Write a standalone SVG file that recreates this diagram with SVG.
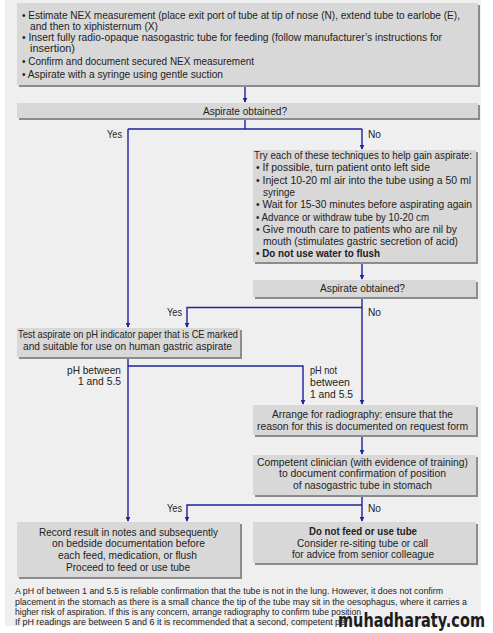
<svg xmlns="http://www.w3.org/2000/svg" width="493" height="633" viewBox="0 0 493 633">
<style>
text{font-family:"Liberation Sans",Arial,sans-serif;fill:#222;font-size:10.5px}
.b1{font-size:11px}
.bold{font-weight:bold}
.fn{font-size:9.5px}
.box{fill:#d8d8d8}
.sh{fill:#8c8c8c}
.c{fill:none;stroke:#2020a0;stroke-width:1.4}
.wm{font-family:"DejaVu Sans",sans-serif;font-weight:bold;font-size:20px;fill:#1c1c1c}
</style>
<defs>
<marker id="ah" viewBox="0 0 8 8" refX="7" refY="4" markerWidth="5" markerHeight="5" orient="auto" markerUnits="userSpaceOnUse">
<path d="M0,0 L8,4 L0,8 z" fill="#2020a0"/>
</marker>
</defs>
<rect x="0" y="0" width="493" height="633" fill="#fff"/>
<rect x="5" y="0" width="476" height="626" fill="#efefef"/>

<g id="connectors">
<path class="c" d="M245,85 V102" marker-end="url(#ah)"/>
<path class="c" d="M245,118 V129 M128,129 H362"/>
<path class="c" d="M128,129 V327" marker-end="url(#ah)"/>
<path class="c" d="M362,129 V149" marker-end="url(#ah)"/>
<path class="c" d="M362,263 V279" marker-end="url(#ah)"/>
<path class="c" d="M362,298 V404" marker-end="url(#ah)"/>
<path class="c" d="M362,307.5 H187 V327" marker-end="url(#ah)"/>
<path class="c" d="M128,357 V521" marker-end="url(#ah)"/>
<path class="c" d="M128,366 H303 V404" marker-end="url(#ah)"/>
<path class="c" d="M362,436 V454" marker-end="url(#ah)"/>
<path class="c" d="M362,496 V521" marker-end="url(#ah)"/>
<path class="c" d="M362,505 H187 V521" marker-end="url(#ah)"/>
</g>

<g id="n1">
<rect class="sh" x="19" y="5" width="461" height="82"/>
<rect class="box" x="17" y="3" width="461" height="82"/>
<text class="b1" x="22" y="19" textLength="438" lengthAdjust="spacingAndGlyphs">• Estimate NEX measurement (place exit port of tube at tip of nose (N), extend tube to earlobe (E),</text>
<text class="b1" x="30" y="29.5" textLength="128" lengthAdjust="spacingAndGlyphs">and then to xiphisternum (X)</text>
<text class="b1" x="22" y="41" textLength="420" lengthAdjust="spacingAndGlyphs">• Insert fully radio-opaque nasogastric tube for feeding (follow manufacturer’s instructions for</text>
<text class="b1" x="30" y="52" textLength="45" lengthAdjust="spacingAndGlyphs">insertion)</text>
<text class="b1" x="22" y="65" textLength="232" lengthAdjust="spacingAndGlyphs">• Confirm and document secured NEX measurement</text>
<text class="b1" x="22" y="78" textLength="201" lengthAdjust="spacingAndGlyphs">• Aspirate with a syringe using gentle suction</text>
</g>

<g id="n2">
<rect class="sh" x="19" y="105" width="461" height="15"/>
<rect class="box" x="17" y="103" width="461" height="15"/>
<text x="203" y="114.5" textLength="84" lengthAdjust="spacingAndGlyphs">Aspirate obtained?</text>
</g>
<text x="107" y="137.5" textLength="15" lengthAdjust="spacingAndGlyphs">Yes</text>
<text x="368" y="137.5" textLength="13" lengthAdjust="spacingAndGlyphs">No</text>

<g id="n3">
<rect class="sh" x="255" y="152" width="223" height="112"/>
<rect class="box" x="253" y="150" width="223" height="112"/>
<text x="254" y="159" textLength="218" lengthAdjust="spacingAndGlyphs">Try each of these techniques to help gain aspirate:</text>
<text x="256" y="171" textLength="174" lengthAdjust="spacingAndGlyphs">• If possible, turn patient onto left side</text>
<text x="256" y="183.5" textLength="215" lengthAdjust="spacingAndGlyphs">• Inject 10-20 ml air into the tube using a 50 ml</text>
<text x="263" y="196" textLength="32" lengthAdjust="spacingAndGlyphs">syringe</text>
<text x="256" y="208" textLength="216" lengthAdjust="spacingAndGlyphs">• Wait for 15-30 minutes before aspirating again</text>
<text x="256" y="220.5" textLength="173" lengthAdjust="spacingAndGlyphs">• Advance or withdraw tube by 10-20 cm</text>
<text x="256" y="233" textLength="201" lengthAdjust="spacingAndGlyphs">• Give mouth care to patients who are nil by</text>
<text x="263" y="245" textLength="195" lengthAdjust="spacingAndGlyphs">mouth (stimulates gastric secretion of acid)</text>
<text class="bold" x="256" y="257" textLength="124" lengthAdjust="spacingAndGlyphs">• Do not use water to flush</text>
</g>

<g id="n4">
<rect class="sh" x="255" y="282" width="223" height="17"/>
<rect class="box" x="253" y="280" width="223" height="17"/>
<text x="320" y="292" textLength="85" lengthAdjust="spacingAndGlyphs">Aspirate obtained?</text>
</g>
<text x="167" y="315.5" textLength="15" lengthAdjust="spacingAndGlyphs">Yes</text>
<text x="368" y="315.5" textLength="13" lengthAdjust="spacingAndGlyphs">No</text>

<g id="n5">
<rect class="sh" x="19" y="330" width="223" height="29"/>
<rect class="box" x="17" y="328" width="223" height="29"/>
<text x="18" y="337.5" textLength="220" lengthAdjust="spacingAndGlyphs">Test aspirate on pH indicator paper that is CE marked</text>
<text x="23" y="350" textLength="209" lengthAdjust="spacingAndGlyphs">and suitable for use on human gastric aspirate</text>
</g>
<text x="67" y="373.5" textLength="54" lengthAdjust="spacingAndGlyphs">pH between</text>
<text x="78" y="385" textLength="43" lengthAdjust="spacingAndGlyphs">1 and 5.5</text>
<text x="310" y="373.5" textLength="27" lengthAdjust="spacingAndGlyphs">pH not</text>
<text x="310" y="386" textLength="40" lengthAdjust="spacingAndGlyphs">between</text>
<text x="310" y="398" textLength="43" lengthAdjust="spacingAndGlyphs">1 and 5.5</text>

<g id="n6">
<rect class="sh" x="255" y="407" width="223" height="30"/>
<rect class="box" x="253" y="405" width="223" height="30"/>
<text x="272" y="417.5" textLength="181" lengthAdjust="spacingAndGlyphs">Arrange for radiography: ensure that the</text>
<text x="257" y="430" textLength="211" lengthAdjust="spacingAndGlyphs">reason for this is documented on request form</text>
</g>

<g id="n7">
<rect class="sh" x="255" y="457" width="223" height="40"/>
<rect class="box" x="253" y="455" width="223" height="40"/>
<text x="257" y="465.5" textLength="211" lengthAdjust="spacingAndGlyphs">Competent clinician (with evidence of training)</text>
<text x="279" y="477" textLength="167" lengthAdjust="spacingAndGlyphs">to document confirmation of position</text>
<text x="293" y="488.5" textLength="139" lengthAdjust="spacingAndGlyphs">of nasogastric tube in stomach</text>
</g>
<text x="167" y="511.5" textLength="15" lengthAdjust="spacingAndGlyphs">Yes</text>
<text x="368" y="511.5" textLength="13" lengthAdjust="spacingAndGlyphs">No</text>

<g id="n8">
<rect class="sh" x="19" y="524" width="223" height="55"/>
<rect class="box" x="17" y="522" width="223" height="55"/>
<text x="39" y="535.5" textLength="179" lengthAdjust="spacingAndGlyphs">Record result in notes and subsequently</text>
<text x="52" y="547" textLength="153" lengthAdjust="spacingAndGlyphs">on bedside documentation before</text>
<text x="58" y="559" textLength="139" lengthAdjust="spacingAndGlyphs">each feed, medication, or flush</text>
<text x="66" y="571" textLength="124" lengthAdjust="spacingAndGlyphs">Proceed to feed or use tube</text>
</g>

<g id="n9">
<rect class="sh" x="255" y="524" width="223" height="41"/>
<rect class="box" x="253" y="522" width="223" height="41"/>
<text class="bold" x="309" y="534.5" textLength="108" lengthAdjust="spacingAndGlyphs">Do not feed or use tube</text>
<text x="297" y="546.5" textLength="131" lengthAdjust="spacingAndGlyphs">Consider re-siting tube or call</text>
<text x="292" y="558" textLength="142" lengthAdjust="spacingAndGlyphs">for advice from senior colleague</text>
</g>

<g id="footnote">
<text class="fn" x="15" y="594" textLength="428" lengthAdjust="spacingAndGlyphs">A pH of between 1 and 5.5 is reliable confirmation that the tube is not in the lung. However, it does not confirm</text>
<text class="fn" x="15" y="604.5" textLength="452" lengthAdjust="spacingAndGlyphs">placement  in the stomach as there is a small chance the tip of the tube may sit in the oesophagus, where it carries a</text>
<text class="fn" x="15" y="615" textLength="346" lengthAdjust="spacingAndGlyphs">higher risk of aspiration. If this is any concern, arrange radiography to confirm tube position</text>
<text class="fn" x="15" y="625" textLength="333" lengthAdjust="spacingAndGlyphs">If pH readings are between 5 and 6 it is recommended that a second, competent per</text>
</g>
<text class="wm" x="338" y="627" textLength="147" lengthAdjust="spacingAndGlyphs">muhadharaty.com</text>
</svg>
